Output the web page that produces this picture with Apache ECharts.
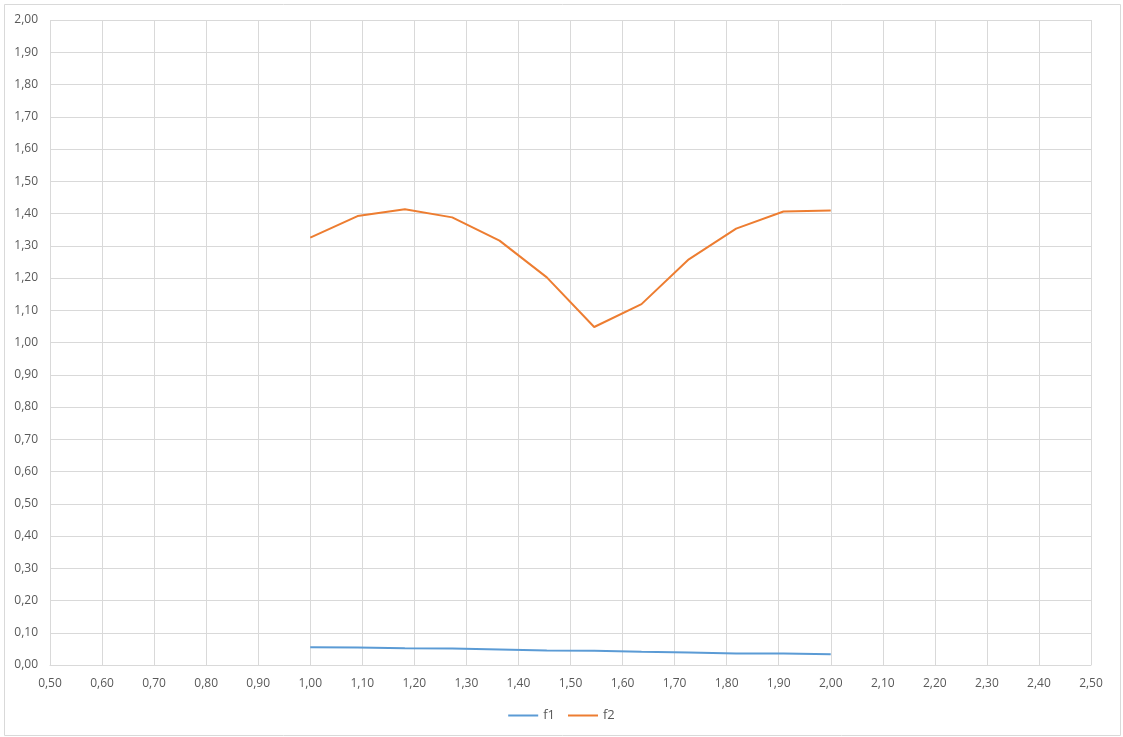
<!DOCTYPE html>
<html><head><meta charset="utf-8">
<script src="https://cdn.jsdelivr.net/npm/echarts@6/dist/echarts.min.js"></script>
<style>html,body{margin:0;padding:0;background:#fff}#c{width:1123px;height:737px}</style>
</head><body><div id="c"></div>
<script>
const xValues = [1.00, 1.0909, 1.1818, 1.2727, 1.3636, 1.4545, 1.5455, 1.6364, 1.7273, 1.8182, 1.9091, 2.00];
const f1 = [0.055, 0.054, 0.052, 0.051, 0.048, 0.045, 0.044, 0.041, 0.039, 0.036, 0.036, 0.033];
const f2 = [1.325, 1.392, 1.413, 1.388, 1.316, 1.202, 1.048, 1.119, 1.258, 1.353, 1.406, 1.409];
const seriesNames = ['f1', 'f2'];
const fmt = v => v.toFixed(2).replace('.', ',');
const chart = echarts.init(document.getElementById('c'));
const lab = {color: '#595959', fontSize: 12, fontFamily: 'Open Sans, Liberation Sans, sans-serif'};
chart.setOption({
  animation: false,
  graphic: [{type: 'rect', shape: {x: 4.5, y: 4.5, width: 1116, height: 731}, style: {fill: 'none', stroke: '#D9D9D9', lineWidth: 1}, silent: true}],
  grid: {left: 50, right: 32, top: 20, bottom: 72, containLabel: false},
  legend: {bottom: 10, left: 'center', itemWidth: 30, itemHeight: 2, itemGap: 13, icon: 'rect',
    textStyle: {color: '#595959', fontSize: 13, fontFamily: 'Open Sans, Liberation Sans, sans-serif'},
    data: seriesNames},
  xAxis: {type: 'value', min: 0.5, max: 2.5, interval: 0.1,
    axisLine: {show: true, lineStyle: {color: '#D9D9D9'}}, axisTick: {show: false},
    splitLine: {show: true, lineStyle: {color: '#D9D9D9'}},
    axisLabel: Object.assign({formatter: fmt, margin: 13}, lab)},
  yAxis: {type: 'value', min: 0, max: 2, interval: 0.1,
    axisLine: {show: false}, axisTick: {show: false},
    splitLine: {show: true, lineStyle: {color: '#D9D9D9'}},
    axisLabel: Object.assign({formatter: fmt, margin: 12}, lab)},
  series: [
    {name: seriesNames[0], type: 'line', data: xValues.map((x, i) => [x, f1[i]]), showSymbol: false,
     lineStyle: {color: '#5B9BD5', width: 2}, itemStyle: {color: '#5B9BD5'}},
    {name: seriesNames[1], type: 'line', data: xValues.map((x, i) => [x, f2[i]]), showSymbol: false,
     lineStyle: {color: '#ED7D31', width: 2}, itemStyle: {color: '#ED7D31'}}
  ]
});
</script></body></html>
